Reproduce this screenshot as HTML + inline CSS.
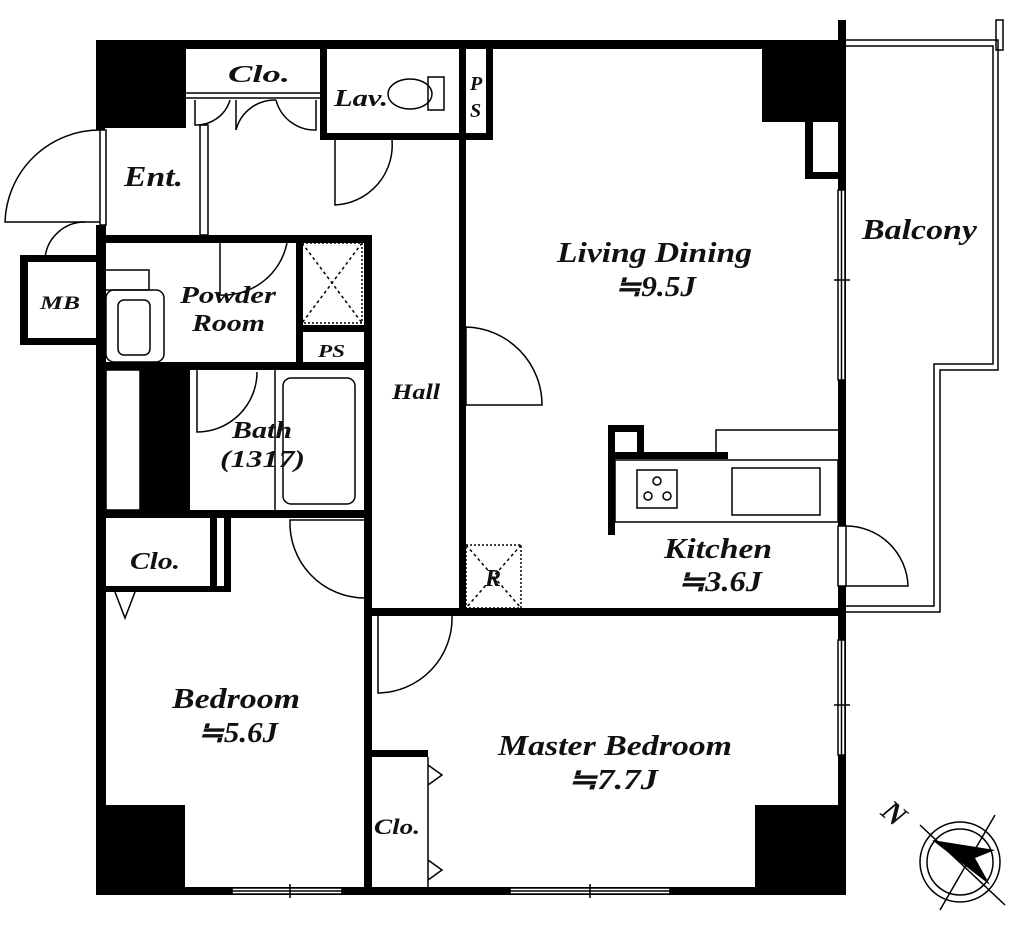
<!DOCTYPE html>
<html><head><meta charset="utf-8"><style>
html,body{margin:0;padding:0;background:#fff;}
svg{display:block}
text{font-family:"Liberation Serif",serif;font-style:italic;font-weight:bold;fill:#111}
</style></head><body>
<svg width="1024" height="938" viewBox="0 0 1024 938" xmlns="http://www.w3.org/2000/svg">
<g fill="#000">
<rect x="96" y="40" width="750" height="9"/>
<rect x="838" y="20" width="8" height="875"/>
<rect x="96" y="887" width="750" height="8"/>
<rect x="96" y="40" width="9" height="90"/>
<rect x="96" y="225" width="10" height="670"/>
<rect x="96" y="40" width="90" height="88"/>
<rect x="762" y="40" width="80" height="82"/>
<rect x="100" y="805" width="85" height="88"/>
<rect x="755" y="805" width="88" height="88"/>
<rect x="140" y="368" width="50" height="145"/>
<rect x="459" y="48" width="7" height="567"/>
<rect x="366" y="608" width="480" height="8"/>
<rect x="364" y="235" width="8" height="655"/>
<rect x="104" y="235" width="266" height="8"/>
<rect x="104" y="362" width="266" height="8"/>
<rect x="104" y="510" width="266" height="8"/>
<rect x="296" y="235" width="7" height="130"/>
<rect x="296" y="325" width="72" height="7"/>
<rect x="320" y="48" width="7" height="92"/>
<rect x="320" y="133" width="172" height="7"/>
<rect x="486" y="48" width="7" height="92"/>
<rect x="20" y="255" width="8" height="90"/>
<rect x="20" y="255" width="80" height="7"/>
<rect x="20" y="338" width="80" height="7"/>
<rect x="210" y="518" width="7" height="74"/>
<rect x="224" y="518" width="7" height="74"/>
<rect x="104" y="586" width="125" height="6"/>
<rect x="370" y="750" width="58" height="7"/>
<rect x="608" y="425" width="7" height="110"/>
<rect x="608" y="425" width="36" height="7"/>
<rect x="637" y="425" width="7" height="30"/>
<rect x="608" y="452" width="120" height="7"/>
<rect x="805" y="122" width="8" height="57"/>
<rect x="805" y="172" width="35" height="7"/>
</g>
<g fill="none" stroke="#000" stroke-width="1.5">
<polyline points="846,40 998,40 998,370 940,370 940,612 846,612"/>
<polyline points="846,46 993,46 993,364 934,364 934,606 846,606"/>
<rect x="996" y="20" width="7" height="30"/>
<path d="M100,130 A95,95 0 0 0 5,222 L100,222"/>
<rect x="100" y="130" width="6" height="95" fill="#fff"/>
<rect x="200" y="125" width="8" height="110"/>
<path d="M85,222 A40,40 0 0 0 45,258 L85,258"/>
<line x1="185" y1="93" x2="320" y2="93"/><line x1="185" y1="98" x2="320" y2="98"/>
<path d="M195,100 L195,125 A35,35 0 0 0 230,100 M236,100 L236,130 A40,40 0 0 1 276,100 M276,100 A40,40 0 0 0 316,130 L316,100"/>
<path d="M335,140 L335,205 A60,60 0 0 0 392,140"/>
<ellipse cx="410" cy="94" rx="22" ry="15"/><rect x="428" y="77" width="16" height="33"/>
<path d="M220,243 L220,295 A65,65 0 0 0 287,243"/>
<rect x="106" y="290" width="58" height="72" rx="8"/><rect x="118" y="300" width="32" height="55" rx="6"/>
<rect x="104" y="270" width="45" height="20"/>
<rect x="302" y="243" width="60" height="80" stroke-dasharray="2,2"/>
<path d="M302,243 L362,323 M362,243 L302,323" stroke-dasharray="3,3"/>
<path d="M197,370 L197,432 A60,60 0 0 0 257,372"/>
<line x1="275" y1="370" x2="275" y2="510"/>
<rect x="283" y="378" width="72" height="126" rx="8"/>
<rect x="106" y="370" width="34" height="140"/>
<path d="M466,327 L466,405 L542,405 A78,78 0 0 0 466,327"/>
<path d="M364,520 L290,520 A75,75 0 0 0 364,598"/>
<path d="M378,616 L378,693 A75,75 0 0 0 452,616"/>
<rect x="615" y="460" width="223" height="62"/>
<rect x="637" y="470" width="40" height="38"/>
<circle cx="657" cy="481" r="4"/><circle cx="648" cy="496" r="4"/><circle cx="667" cy="496" r="4"/>
<rect x="732" y="468" width="88" height="47"/>
<polyline points="716,455 716,430 838,430"/>
<rect x="466" y="545" width="55" height="63" stroke-dasharray="2,2"/>
<path d="M466,545 L521,608 M521,545 L466,608" stroke-dasharray="3,3"/>
<path d="M846,526 A62,62 0 0 1 908,586 L846,586"/>
<rect x="838" y="526" width="8" height="60" fill="#fff"/>
<path d="M115,592 L125,618 L135,592"/>
<path d="M428,757 L428,890 M428,765 L442,775 L428,785 M428,860 L442,870 L428,880"/>
<!-- windows -->
<rect x="838" y="190" width="7" height="190" fill="#fff"/>
<line x1="841.5" y1="190" x2="841.5" y2="380"/>
<rect x="838" y="640" width="7" height="115" fill="#fff"/>
<line x1="841.5" y1="640" x2="841.5" y2="755"/>
<line x1="834" y1="280" x2="850" y2="280"/><line x1="834" y1="705" x2="850" y2="705"/>
<rect x="232" y="888" width="110" height="6" fill="#fff"/>
<line x1="232" y1="891" x2="342" y2="891"/>
<rect x="510" y="888" width="160" height="6" fill="#fff"/>
<line x1="510" y1="891" x2="670" y2="891"/>
<line x1="290" y1="884" x2="290" y2="898"/><line x1="590" y1="884" x2="590" y2="898"/>
<circle cx="960" cy="862" r="40"/><circle cx="960" cy="862" r="33"/>
<line x1="920" y1="825" x2="1005" y2="905"/><line x1="940" y1="910" x2="995" y2="815"/>
</g>
<path d="M932,840 L990,885 L975,858 L995,850 Z" fill="#000"/>
<text x="228" y="82" font-size="24" textLength="62" lengthAdjust="spacingAndGlyphs">Clo.</text>
<text x="334" y="106" font-size="24" textLength="54" lengthAdjust="spacingAndGlyphs">Lav.</text>
<text x="470" y="90" font-size="20">P</text>
<text x="470" y="117" font-size="20">S</text>
<text x="124" y="186" font-size="28" textLength="59" lengthAdjust="spacingAndGlyphs">Ent.</text>
<text x="40" y="309" font-size="19" textLength="40" lengthAdjust="spacingAndGlyphs">MB</text>
<text x="180" y="303" font-size="24" textLength="96" lengthAdjust="spacingAndGlyphs">Powder</text>
<text x="192" y="331" font-size="24" textLength="73" lengthAdjust="spacingAndGlyphs">Room</text>
<text x="318" y="357" font-size="18" textLength="27" lengthAdjust="spacingAndGlyphs">PS</text>
<text x="392" y="399" font-size="22" textLength="48" lengthAdjust="spacingAndGlyphs">Hall</text>
<text x="232" y="438" font-size="24" textLength="60" lengthAdjust="spacingAndGlyphs">Bath</text>
<text x="220" y="467" font-size="24" textLength="85" lengthAdjust="spacingAndGlyphs">(1317)</text>
<text x="130" y="569" font-size="24" textLength="50" lengthAdjust="spacingAndGlyphs">Clo.</text>
<text x="557" y="262" font-size="29" textLength="195" lengthAdjust="spacingAndGlyphs">Living Dining</text>
<text x="615" y="296" font-size="29" textLength="81" lengthAdjust="spacingAndGlyphs">≒9.5J</text>
<text x="862" y="239" font-size="29" textLength="115" lengthAdjust="spacingAndGlyphs">Balcony</text>
<text x="664" y="558" font-size="29" textLength="108" lengthAdjust="spacingAndGlyphs">Kitchen</text>
<text x="678" y="591" font-size="29" textLength="84" lengthAdjust="spacingAndGlyphs">≒3.6J</text>
<text x="485" y="586" font-size="24">R</text>
<text x="172" y="708" font-size="29" textLength="128" lengthAdjust="spacingAndGlyphs">Bedroom</text>
<text x="198" y="742" font-size="29" textLength="80" lengthAdjust="spacingAndGlyphs">≒5.6J</text>
<text x="498" y="755" font-size="29" textLength="234" lengthAdjust="spacingAndGlyphs">Master Bedroom</text>
<text x="568" y="789" font-size="29" textLength="90" lengthAdjust="spacingAndGlyphs">≒7.7J</text>
<text x="374" y="834" font-size="22" textLength="46" lengthAdjust="spacingAndGlyphs">Clo.</text>
<text x="878" y="822" font-size="30" transform="rotate(40 890 820)">N</text>
</svg>
</body></html>
